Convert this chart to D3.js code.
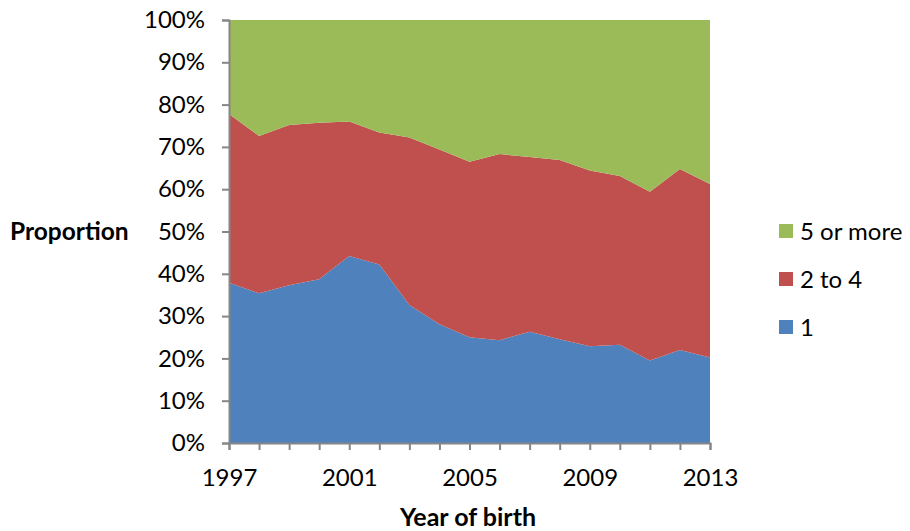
<!DOCTYPE html>
<html>
<head>
<meta charset="utf-8">
<script src="https://cdn.jsdelivr.net/npm/d3@7"></script>
<style>
  html, body { margin: 0; padding: 0; background: #fff; }
  svg { display: block; font-family: Lato, "Open Sans", sans-serif; }
</style>
</head>
<body>
<svg id="chart" width="910" height="531"></svg>
<script>
// Birth years on the category axis
const years = [1997, 1998, 1999, 2000, 2001, 2002, 2003, 2004, 2005,
               2006, 2007, 2008, 2009, 2010, 2011, 2012, 2013];
// Share (%) of each group per year
const one       = [37.9, 35.4, 37.3, 38.7, 44.2, 42.2, 32.6, 28.1, 25.0, 24.3, 26.3, 24.5, 22.9, 23.2, 19.5, 22.0, 20.2];
const twoToFour = [39.9, 37.2, 37.9, 37.0, 31.8, 31.2, 39.6, 41.3, 41.5, 44.0, 41.3, 42.4, 41.5, 39.9, 39.9, 42.8, 41.0];
const fivePlus  = [22.2, 27.4, 24.8, 24.3, 24.0, 26.6, 27.8, 30.6, 33.5, 31.7, 32.4, 33.1, 35.6, 36.9, 40.6, 35.2, 38.8];
const seriesNames = ["1", "2 to 4", "5 or more"];
const seriesColors = ["#4F81BD", "#C0504D", "#9BBB59"];
const yTicks = [0, 0.1, 0.2, 0.3, 0.4, 0.5, 0.6, 0.7, 0.8, 0.9, 1];
const xLabelYears = [1997, 2001, 2005, 2009, 2013];

const rows = years.map((y, i) => ({ year: y, "1": one[i], "2 to 4": twoToFour[i], "5 or more": fivePlus[i] }));

const svg = d3.select("#chart");
const margin = { left: 229, right: 200, top: 20, bottom: 88 };
const W = 910, H = 531;
const fontSize = 24;
const axisColor = "#868686";

const x = d3.scaleLinear().domain([years[0], years[years.length - 1]]).range([margin.left, W - margin.right]);
const y = d3.scaleLinear().domain([0, 1]).range([H - margin.bottom, margin.top]);

const stacked = d3.stack().keys(seriesNames).offset(d3.stackOffsetExpand)(rows);

const area = d3.area()
  .x(d => x(d.data.year))
  .y0(d => y(d[0]))
  .y1(d => y(d[1]));

svg.append("g").selectAll("path")
  .data(stacked)
  .join("path")
  .attr("d", area)
  .attr("fill", (d, i) => seriesColors[i]);

// Y axis
const yAxis = svg.append("g")
  .attr("transform", `translate(${margin.left},0)`)
  .call(d3.axisLeft(y).tickValues(yTicks).tickFormat(d3.format(".0%")).tickSizeOuter(0).tickSize(7).tickPadding(17));
yAxis.select(".domain").attr("stroke", axisColor).attr("stroke-width", 2);
yAxis.selectAll(".tick line").attr("stroke", axisColor).attr("stroke-width", 2);
yAxis.selectAll(".tick text").attr("fill", "#000").style("font-size", fontSize + "px").style("font-family", "Lato, sans-serif");

// X axis
const xAxis = svg.append("g")
  .attr("transform", `translate(0,${H - margin.bottom})`)
  .call(d3.axisBottom(x).tickValues(years).tickFormat(d => xLabelYears.includes(d) ? d : "").tickSizeOuter(0).tickSize(7).tickPadding(19));
xAxis.select(".domain").attr("stroke", axisColor).attr("stroke-width", 2);
xAxis.selectAll(".tick line").attr("stroke", axisColor).attr("stroke-width", 2);
xAxis.selectAll(".tick text").attr("fill", "#000").style("font-size", fontSize + "px").style("font-family", "Lato, sans-serif");

// Axis titles
svg.append("text")
  .attr("x", 468).attr("y", 526)
  .attr("text-anchor", "middle")
  .style("font-weight", "bold").style("font-size", "25px")
  .text("Year of birth");

svg.append("text")
  .attr("x", 10).attr("y", 240)
  .style("font-weight", "bold").style("font-size", "24.5px")
  .text("Proportion");

// Legend (top entry is the top-most series)
const legendItems = seriesNames.map((n, i) => ({ name: n, color: seriesColors[i] })).reverse();
const legend = svg.append("g").attr("transform", "translate(779,231)");
const lg = legend.selectAll("g").data(legendItems).join("g")
  .attr("transform", (d, i) => `translate(0,${i * 48})`);
lg.append("rect").attr("y", -7).attr("width", 14).attr("height", 14).attr("fill", d => d.color);
lg.append("text").attr("x", 21).attr("y", 8.5).style("font-size", fontSize + "px").text(d => d.name);
</script>
</body>
</html>
